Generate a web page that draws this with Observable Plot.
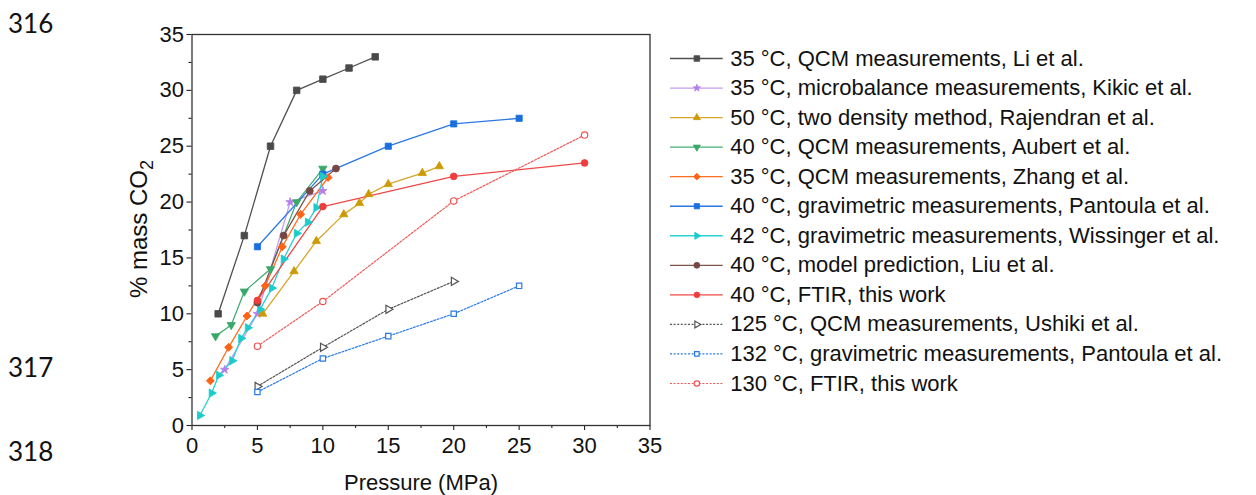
<!DOCTYPE html>
<html>
<head>
<meta charset="utf-8">
<script src="https://cdn.jsdelivr.net/npm/d3@7"></script>
<script src="https://cdn.jsdelivr.net/npm/@observablehq/plot@0.6"></script>
<style>
  body { margin: 0; background: #fff; }
  #wrap { position: relative; width: 1256px; height: 495px; overflow: hidden; background: #fff; }
  #wrap svg { position: absolute; left: 0; top: 0; }
  .ln { position: absolute; left: 8px; font-family: Lato, "Open Sans", sans-serif; font-size: 26px; color: #111; line-height: 1; }
</style>
</head>
<body>
<div id="wrap">
  <div class="ln" style="top:10px">316</div>
  <div class="ln" style="top:354px">317</div>
  <div class="ln" style="top:438px">318</div>
</div>
<script>
// ---------- data (pressure MPa, % mass CO2) ----------
const li          = [[2,10],[4,17],[6,25],[8,30],[10,31],[12,32],[14,33]];
const kikic       = [[2.5,5],[5,10],[7.5,20],[10,21]];
const rajendran   = [[5.4,10],[7.8,13.8],[9.5,16.5],[11.6,18.9],[12.8,19.9],[13.5,20.7],[15,21.6],[17.6,22.6],[18.9,23.2]];
const aubert      = [[1.8,8],[3,9],[4,12],[6,14],[8,20],[10,23]];
const zhang       = [[1.4,4],[2.8,7],[4.2,9.8],[5.6,12.5],[6.9,16],[8.3,18.9],[10.4,22.2]];
const pantoula40  = [[5,16],[10,22.5],[15,25],[20,27],[25,27.5]];
const wissinger   = [[0.6,0.9],[1.5,2.9],[2.05,4.5],[3.07,5.8],[3.75,7.8],[4.26,8.75],[5.2,10.4],[6.1,12.3],[7,14.9],[8,17.2],[8.85,18.2],[9.5,19.5],[10,22.3]];
const liu         = [[5,11],[7,17],[9,21],[11,23]];
const ftir40      = [[5,11.2],[10,19.6],[20,22.3],[30,23.5]];
const ushiki      = [[5,3.5],[10,7],[15,10.4],[20,12.9]];
const pantoula132 = [[5,3],[10,6],[15,8],[20,10],[25,12.5]];
const ftir130     = [[5,7.1],[10,11.1],[20,20.1],[30,26]];

const seriesLabels = [
  "35 °C, QCM measurements, Li et al.",
  "35 °C, microbalance measurements, Kikic et al.",
  "50 °C, two density method, Rajendran et al.",
  "40 °C, QCM measurements, Aubert et al.",
  "35 °C, QCM measurements, Zhang et al.",
  "40 °C, gravimetric measurements, Pantoula et al.",
  "42 °C, gravimetric measurements, Wissinger et al.",
  "40 °C, model prediction, Liu et al.",
  "40 °C, FTIR, this work",
  "125 °C, QCM measurements, Ushiki et al.",
  "132 °C, gravimetric measurements, Pantoula et al.",
  "130 °C, FTIR, this work"
];
const seriesData = [li, kikic, rajendran, aubert, zhang, pantoula40, wissinger, liu, ftir40, ushiki, pantoula132, ftir130];

const xTicks = [0,5,10,15,20,25,30,35];
const yTicks = [0,5,10,15,20,25,30,35];
const xMinor = [2.5,7.5,12.5,17.5,22.5,27.5,32.5];
const yMinor = [2.5,7.5,12.5,17.5,22.5,27.5,32.5];

// ---------- styles ----------
const styles = [
  {line:"#505050", fill:"#4a4a4a", stroke:"#4a4a4a", symbol:"square",   rotate:0,   r:3.7, dash:null},
  {line:"#c59cf0", fill:"#b47ee8", stroke:"#b47ee8", symbol:"star",     rotate:0,   r:2.7, dash:null},
  {line:"#d6a52a", fill:"#cc9a06", stroke:"#cc9a06", symbol:"triangle", rotate:0,   r:3.1, dash:null},
  {line:"#45ad74", fill:"#3aa86b", stroke:"#3aa86b", symbol:"triangle", rotate:180, r:3.1, dash:null},
  {line:"#ff6d1f", fill:"#ff6315", stroke:"#ff6315", symbol:"square",   rotate:45,  r:3.2, dash:null},
  {line:"#2a78e2", fill:"#1a6fdf", stroke:"#1a6fdf", symbol:"square",   rotate:0,   r:3.5, dash:null},
  {line:"#2ad2d2", fill:"#1ccccc", stroke:"#1ccccc", symbol:"triangle", rotate:90,  r:3.1, dash:null},
  {line:"#7d5550", fill:"#764843", stroke:"#764843", symbol:"circle",   rotate:0,   r:3.5, dash:null},
  {line:"#f04848", fill:"#f03c3c", stroke:"#f03c3c", symbol:"circle",   rotate:0,   r:3.4, dash:null},
  {line:"#555555", fill:"#ffffff", stroke:"#555555", symbol:"triangle", rotate:90,  r:3.0, dash:"2,1.6"},
  {line:"#2b7be0", fill:"#ffffff", stroke:"#2b7be0", symbol:"square",   rotate:0,   r:3.0, dash:"2,1.6"},
  {line:"#f05a5a", fill:"#ffffff", stroke:"#f05050", symbol:"circle",   rotate:0,   r:3.2, dash:"2,1.6"}
];

const FONT = "'Liberation Sans', Arial, sans-serif";
const W = 680, H = 495;

// ---------- main chart ----------
const marks = [];
seriesData.forEach((data, i) => {
  const s = styles[i];
  marks.push(Plot.line(data, {x: d => d[0], y: d => d[1], stroke: s.line, strokeWidth: s.dash ? 1.2 : 1.3, strokeDasharray: s.dash}));
});
seriesData.forEach((data, i) => {
  const s = styles[i];
  marks.push(Plot.dot(data, {x: d => d[0], y: d => d[1], symbol: s.symbol, rotate: s.rotate, r: s.r, fill: s.fill, stroke: s.stroke, strokeWidth: s.dash ? 1.2 : 0.8}));
});

const chart = Plot.plot({
  width: W, height: H,
  marginLeft: 191.5, marginRight: W - 649.5, marginTop: 34, marginBottom: H - 425,
  style: {fontFamily: FONT, color: "#222", background: "transparent", overflow: "visible"},
  x: {domain: [0, 35]},
  y: {domain: [0, 35]},
  marks: [
    Plot.axisX({ticks: xMinor, tickSize: 3, tickFormat: () => "", label: null, strokeWidth: 1.1}),
    Plot.axisY({ticks: yMinor, tickSize: 3, tickFormat: () => "", label: null, strokeWidth: 1.1}),
    Plot.axisX({ticks: xTicks, tickSize: 5, tickPadding: 7, fontSize: 22, label: null, strokeWidth: 1.1, fill: "#111"}),
    Plot.axisY({ticks: yTicks, tickSize: 5, tickPadding: 3, fontSize: 22, label: null, strokeWidth: 1.1, fill: "#111"}),
    ...marks,
    Plot.frame({stroke: "#333", strokeWidth: 1.3})
  ]
});

const svg = d3.select(chart);
const yl = svg.append("text")
  .attr("transform", "translate(147,229) rotate(-90)")
  .attr("text-anchor", "middle")
  .attr("font-family", FONT).attr("font-size", 24).attr("fill", "#111")
  .text("% mass CO");
yl.append("tspan").attr("font-size", 18).attr("dy", 6).text("2");
svg.append("text")
  .attr("x", 421).attr("y", 490)
  .attr("text-anchor", "middle")
  .attr("font-family", FONT).attr("font-size", 22).attr("fill", "#111")
  .text("Pressure (MPa)");

document.getElementById("wrap").appendChild(chart);

// ---------- legend (drawn with Plot, rows as index scale) ----------
const rows = seriesLabels.map((label, i) => ({i, label}));
const legendMarks = [];
rows.forEach(d => {
  const s = styles[d.i];
  legendMarks.push(Plot.ruleY([d], {y: "i", x1: 0, x2: 1, stroke: s.line, strokeWidth: s.dash ? 1.2 : 1.3, strokeDasharray: s.dash}));
  legendMarks.push(Plot.dot([d], {x: 0.5, y: "i", symbol: s.symbol, rotate: s.rotate, r: s.r * 0.85, fill: s.fill, stroke: s.stroke, strokeWidth: s.dash ? 1.2 : 0.8}));
});
legendMarks.push(Plot.text(rows, {x: 1, y: "i", text: "label", dx: 7, textAnchor: "start", fontSize: 22, fill: "#111"}));

const legend = Plot.plot({
  width: 1256, height: 495,
  style: {fontFamily: FONT, background: "transparent", overflow: "visible"},
  x: {domain: [0, 1], range: [670, 722.7], axis: null},
  y: {domain: [0, 11], range: [58, 383], axis: null},
  marks: legendMarks
});
document.getElementById("wrap").appendChild(legend);
</script>
</body>
</html>
